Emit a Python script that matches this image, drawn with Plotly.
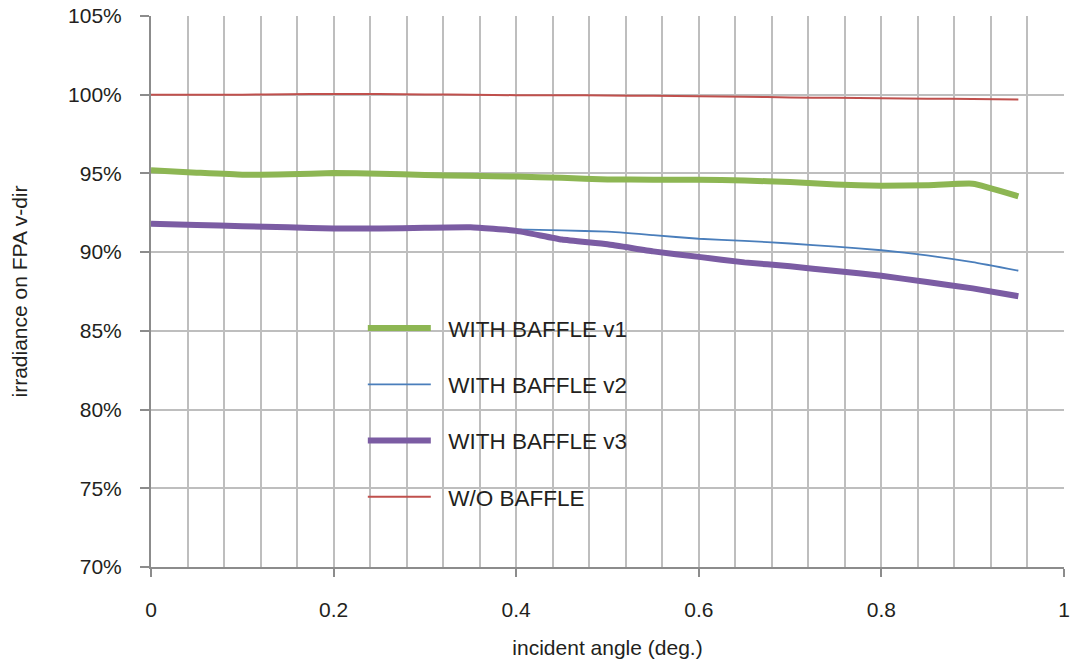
import plotly.graph_objects as go

angle = [0, 0.05, 0.1, 0.15, 0.2, 0.25, 0.3, 0.35, 0.4, 0.45,
         0.5, 0.55, 0.6, 0.65, 0.7, 0.75, 0.8, 0.85, 0.9, 0.95]

baffle_v1 = [95.2, 95.05, 94.92, 94.95, 95.02, 94.98, 94.9, 94.85, 94.8, 94.72,
             94.62, 94.6, 94.6, 94.55, 94.45, 94.3, 94.22, 94.25, 94.35, 93.55]
baffle_v2 = [91.8, 91.72, 91.65, 91.58, 91.5, 91.5, 91.55, 91.58, 91.45, 91.38,
             91.3, 91.08, 90.85, 90.72, 90.55, 90.35, 90.12, 89.8, 89.36, 88.82]
baffle_v3 = [91.8, 91.72, 91.65, 91.58, 91.5, 91.5, 91.55, 91.58, 91.35, 90.8,
             90.5, 90.05, 89.7, 89.35, 89.1, 88.8, 88.5, 88.1, 87.7, 87.2]
no_baffle = [100.0, 100.0, 100.0, 100.03, 100.05, 100.05, 100.02, 100.0, 99.97, 99.97,
             99.95, 99.93, 99.9, 99.87, 99.83, 99.8, 99.77, 99.75, 99.73, 99.7]

series_names = ["WITH BAFFLE v1", "WITH BAFFLE v2", "WITH BAFFLE v3", "W/O BAFFLE"]
series_values = [baffle_v1, baffle_v2, baffle_v3, no_baffle]
colors = ["#8DB653", "#4A7EBB", "#7B5CA3", "#C0504D"]
widths = [6, 1.8, 6, 2]

FONT = "Liberation Sans, Arial, sans-serif"
GRID = "#BEBEBE"

fig = go.Figure()
for name, vals, c, w in zip(series_names, series_values, colors, widths):
    fig.add_trace(go.Scatter(x=angle, y=vals, mode="lines",
                             name="\u00a0\u00a0" + name,
                             legendgroup=name,
                             line=dict(color=c, width=w, shape="spline", smoothing=0.4)))

# white backdrop for legend area (covers gridlines only)
fig.add_shape(type="rect", xref="paper", yref="paper",
              x0=0.2235, x1=0.55, y0=0.082, y1=0.49,
              fillcolor="white", line=dict(width=0), layer="between")

fig.update_layout(
    width=1072, height=664,
    margin=dict(l=151, r=8, t=16, b=97),
    paper_bgcolor="white", plot_bgcolor="white",
    font=dict(family=FONT, size=21, color="#231F20"),
    showlegend=True,
    legend=dict(x=0.232, y=0.472, xanchor="left", yanchor="top",
                bgcolor="rgba(0,0,0,0)", borderwidth=0,
                font=dict(size=22.5, family=FONT, color="#231F20"),
                traceorder="grouped", tracegroupgap=24, itemwidth=63),
    xaxis=dict(range=[0, 1], dtick=0.2, tick0=0, automargin=False,
               showgrid=True, gridcolor=GRID, gridwidth=1.5,
               minor=dict(dtick=0.04, tick0=0, showgrid=True, gridcolor=GRID, gridwidth=1.5, ticks=""),
               showline=True, linecolor="#8C8C8C", linewidth=2,
               ticks="outside", ticklen=8, tickcolor="#8C8C8C", tickwidth=2,
               ticklabelstandoff=15, zeroline=False,
               title=dict(text="incident angle (deg.)", standoff=20,
                          font=dict(size=21, family=FONT))),
    yaxis=dict(range=[70, 105], dtick=5, tick0=70, ticksuffix="%", automargin=False,
               showgrid=True, gridcolor=GRID, gridwidth=1.5,
               showline=True, linecolor="#8C8C8C", linewidth=2,
               ticks="outside", ticklen=9, tickcolor="#8C8C8C", tickwidth=2,
               ticklabelstandoff=14, zeroline=False,
               title=dict(text="irradiance on FPA v-dir", standoff=35,
                          font=dict(size=21, family=FONT))),
)

fig.write_html("out.html")
